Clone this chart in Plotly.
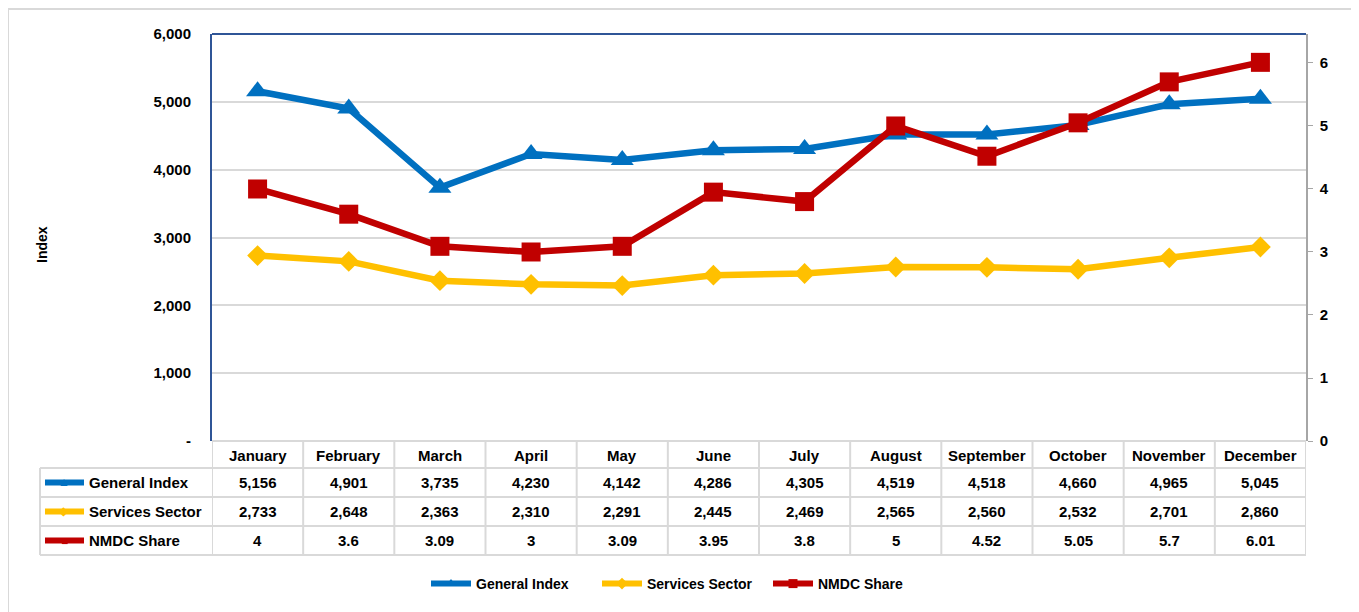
import plotly.graph_objects as go

months = ["January", "February", "March", "April", "May", "June", "July",
          "August", "September", "October", "November", "December"]
general_index = [5156, 4901, 3735, 4230, 4142, 4286, 4305, 4519, 4518, 4660, 4965, 5045]
services_sector = [2733, 2648, 2363, 2310, 2291, 2445, 2469, 2565, 2560, 2532, 2701, 2860]
nmdc_share = [4, 3.6, 3.09, 3, 3.09, 3.95, 3.8, 5, 4.52, 5.05, 5.7, 6.01]
nmdc_labels = ["4", "3.6", "3.09", "3", "3.09", "3.95", "3.8", "5", "4.52", "5.05", "5.7", "6.01"]
left_ticks = [0, 1000, 2000, 3000, 4000, 5000, 6000]
left_tick_text = ["-", "1,000", "2,000", "3,000", "4,000", "5,000", "6,000"]
right_ticks = [0, 1, 2, 3, 4, 5, 6]

BLUE = "#0070C0"
YELLOW = "#FFC000"
RED = "#C00000"
GRID = "#D9D9D9"
FONT = "Liberation Sans, Arial"

# page body has an 8px margin, so the figure starts at (8, 8) on screen
OFF = 8
W, H = 1359 - OFF, 612 - OFF
ML, MR, MT, MB = 212 - OFF, 53, 34 - OFF, 171
PW, PH = W - ML - MR, H - MT - MB
PLOT_BOTTOM = 441  # screen px


def py(ypx):
    return (PLOT_BOTTOM - ypx) / PH


def px(xpx):
    return (xpx - 212) / PW


series = [
    ("General Index", general_index, BLUE, "triangle-up", 20, "y", [f"{v:,}" for v in general_index], "▲"),
    ("Services Sector", services_sector, YELLOW, "diamond", 16, "y", [f"{v:,}" for v in services_sector], "◆"),
    ("NMDC Share", nmdc_share, RED, "square", 19, "y2", nmdc_labels, "■"),
]

fig = go.Figure()
for name, vals, col, sym, size, yax, _, _ in series:
    fig.add_trace(go.Scatter(x=months, y=vals, name=name, yaxis=yax, mode="lines+markers",
                             line=dict(color=col, width=6.5), marker=dict(symbol=sym, size=size, color=col),
                             showlegend=False))
for name, vals, col, sym, size, yax, _, _ in series:
    fig.add_trace(go.Scatter(x=[None], y=[None], name=f"<b>{name}</b>", yaxis=yax, mode="lines+markers",
                             line=dict(color=col, width=6), marker=dict(symbol=sym, size=9, color=col),
                             showlegend=True))

shapes = []
annotations = []
row_lines = [468, 497, 526, 555]
row_centers = [482.5, 511.5, 540.5]
header_center = 455
TFONT = dict(size=15, color="#000", family=FONT)

shapes.append(dict(type="line", xref="paper", yref="paper", x0=0, x1=1, y0=py(441), y1=py(441),
                   line=dict(color=GRID, width=2)))
for r in row_lines:
    shapes.append(dict(type="line", xref="paper", yref="paper", x0=px(40), x1=1, y0=py(r), y1=py(r),
                       line=dict(color=GRID, width=2)))
for i in range(len(months) + 1):
    shapes.append(dict(type="line", xref="x", yref="paper", x0=i - 0.5, x1=i - 0.5,
                       y0=py(441), y1=py(555), line=dict(color=GRID, width=2)))
shapes.append(dict(type="line", xref="paper", yref="paper", x0=px(40), x1=px(40),
                   y0=py(468), y1=py(555), line=dict(color=GRID, width=2)))

for m in months:
    annotations.append(dict(x=m, xref="x", xanchor="center", y=py(header_center), yref="paper",
                            yanchor="middle", text=f"<b>{m}</b>", showarrow=False, font=TFONT))
for (name, vals, col, sym, size, yax, labels, glyph), yc in zip(series, row_centers):
    for m, t in zip(months, labels):
        annotations.append(dict(x=m, xref="x", xanchor="center", y=py(yc), yref="paper",
                                yanchor="middle", text=f"<b>{t}</b>", showarrow=False, font=TFONT))
    annotations.append(dict(x=px(87), xref="paper", xanchor="left", y=py(yc), yref="paper",
                            yanchor="middle", text=f"<b>{name}</b>", showarrow=False, font=TFONT))
    shapes.append(dict(type="line", xref="paper", yref="paper", x0=px(45), x1=px(84),
                       y0=py(yc), y1=py(yc), line=dict(color=col, width=6)))
    annotations.append(dict(x=px(64), xref="paper", xanchor="center", y=py(yc), yref="paper",
                            yanchor="middle", text=glyph, showarrow=False, font=dict(size=12, color=col)))

shapes.append(dict(type="line", xref="paper", yref="paper", x0=0, x1=1, y0=1, y1=1,
                   line=dict(color="#2F5597", width=2)))
shapes.append(dict(type="rect", xref="paper", yref="paper", x0=px(8), x1=px(1352), y0=py(9), y1=py(640),
                   line=dict(color=GRID, width=2)))

annotations.append(dict(x=px(42), xref="paper", xanchor="center", y=py(245), yref="paper", yanchor="middle",
                        text="<b>Index</b>", textangle=-90, showarrow=False,
                        font=dict(size=14, color="#000", family=FONT)))

fig.update_layout(
    width=W, height=H,
    margin=dict(l=ML, r=MR, t=MT, b=MB, autoexpand=False),
    paper_bgcolor="white", plot_bgcolor="white",
    font=dict(family=FONT, color="#000"),
    xaxis=dict(range=[-0.5, 11.5], showticklabels=False, showgrid=False, zeroline=False,
               showline=False, ticks=""),
    yaxis=dict(range=[0, 6000], tickvals=left_ticks, ticktext=[f"<b>{t}</b>" for t in left_tick_text],
               tickfont=dict(size=15, family=FONT, color="#000"), showgrid=True, gridcolor=GRID, gridwidth=2,
               zeroline=False, showline=True, linecolor="#2F5597", linewidth=2, ticks="", ticklabelstandoff=16),
    yaxis2=dict(range=[0, 6.46], overlaying="y", side="right", tickvals=right_ticks,
                ticktext=[f"<b>{t}</b>" for t in right_ticks],
                tickfont=dict(size=15, family=FONT, color="#000"), showgrid=False, zeroline=False,
                showline=True, linecolor="#A6A6A6", linewidth=1.5, ticks="outside", ticklen=5,
                tickcolor="#A6A6A6", ticklabelstandoff=4),
    legend=dict(orientation="h", x=px(426), xanchor="left", y=py(584), yanchor="middle",
                font=dict(size=14, family=FONT, color="#000"), itemwidth=40, entrywidth=116,
                traceorder="normal"),
    shapes=shapes,
    annotations=annotations,
)

fig.write_html("out.html")
